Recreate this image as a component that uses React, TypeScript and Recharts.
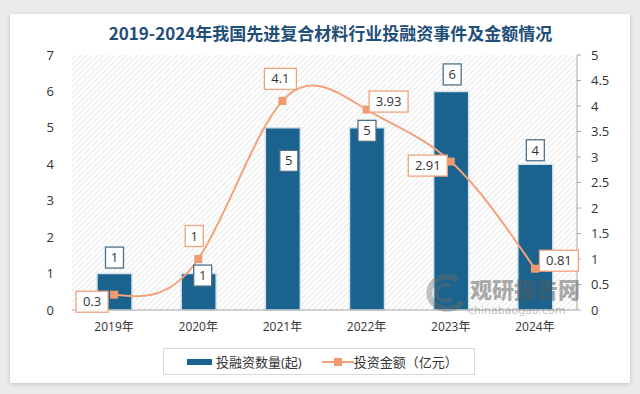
import { Bar, CartesianGrid, ComposedChart, LabelList, Line, XAxis, YAxis } from "recharts";

const years = ["2019年", "2020年", "2021年", "2022年", "2023年", "2024年"];
const counts = [1, 1, 5, 5, 6, 4];
const amounts = [0.3, 1, 4.1, 3.93, 2.91, 0.81];
const leftTicks = [0, 1, 2, 3, 4, 5, 6, 7];
const rightTicks = [0, 0.5, 1, 1.5, 2, 2.5, 3, 3.5, 4, 4.5, 5];

// label box offsets from the mark (dx, dy), as placed in the original
const barLabelOffsets = [[0, -16], [4, 2], [6, 33], [0, 3], [1, -17], [0, -14]];
const lineLabelOffsets = [[-22, 7], [-4, -23], [-2, -22], [22, -8], [-23, 4], [24, -8]];

const data = years.map((year, i) => ({ year, count: counts[i], amount: amounts[i] }));

const BLUE = "#19638e";
const ORANGE = "#f3a27c";
const FONT = "'Open Sans', 'Noto Sans CJK SC', sans-serif";

function BoxLabel(props: any) {
  const { x, y, width, value, index, offsets, border, isBar } = props;
  const [dx, dy] = offsets[index];
  const cx = (isBar ? Number(x) + Number(width) / 2 : Number(x)) + dx;
  const cy = Number(y) + dy;
  const text = String(value);
  const w = text.length * 7 + 11;
  const h = 21;
  return (
    <g>
      <rect x={cx - w / 2} y={cy - h / 2} width={w} height={h} fill="#fff" stroke={border} strokeWidth={1.3} />
      <text x={cx} y={cy} dy={4.5} textAnchor="middle" fontSize={13} fontFamily={FONT} fill="#333">
        {text}
      </text>
    </g>
  );
}

function SquareDot(props: any) {
  const { cx, cy, index } = props;
  return <rect key={`d${index}`} x={cx - 4} y={cy - 4} width={8} height={8} fill="#ef9a70" />;
}

function LegendBox() {
  return (
    <div
      style={{
        position: "absolute",
        left: 163,
        top: 348,
        width: 312,
        height: 27,
        border: "1px solid #d9d9d9",
        boxSizing: "border-box",
        display: "flex",
        alignItems: "center",
        fontFamily: FONT,
        fontSize: 13,
        color: "#333",
      }}
    >
      <span style={{ display: "inline-block", width: 25, height: 6, background: BLUE, marginLeft: 23, marginRight: 4 }} />
      <span>投融资数量(起)</span>
      <svg width={32} height={10} style={{ marginLeft: 20 }}>
        <line x1={0} y1={5} x2={32} y2={5} stroke={ORANGE} strokeWidth={2} />
        <rect x={12} y={1} width={8} height={8} fill="#ef9a70" />
      </svg>
      <span>投资金额（亿元）</span>
    </div>
  );
}

export default function App() {
  return (
    <div style={{ position: "relative", width: 640, height: 394, background: "#ebebeb", overflow: "hidden" }}>
      <style>{`body{margin:0}`}</style>
      <div
        style={{
          position: "absolute",
          left: 10,
          top: 14,
          width: 620,
          height: 369,
          background: "#fff",
          boxShadow: "0 1px 4px rgba(0,0,0,0.18)",
        }}
      />
      <div
        style={{
          position: "absolute",
          left: 0,
          top: 20,
          width: 661,
          textAlign: "center",
          fontFamily: "'Noto Sans CJK SC', sans-serif",
          fontWeight: 700,
          fontSize: 17,
          color: "#1f4e79",
        }}
      >
        2019-2024年我国先进复合材料行业投融资事件及金额情况
      </div>
      <div style={{ position: "absolute", left: 0, top: 0 }}>
        <ComposedChart width={640} height={394} data={data} margin={{ top: 55, right: 0, bottom: 54, left: 0 }}>
          <defs>
            <pattern id="hatch" width={4} height={4} patternUnits="userSpaceOnUse" patternTransform="rotate(45)">
              <line x1={0} y1={0} x2={0} y2={4} stroke="#d9d9d9" strokeWidth={1.2} />
            </pattern>
          </defs>
          <CartesianGrid horizontal={false} vertical={false} fill="url(#hatch)" fillOpacity={1} />
          <XAxis
            dataKey="year"
            height={30}
            axisLine={{ stroke: "#a6a6a6" }}
            tickLine={false}
            tick={{ fontSize: 12, fill: "#333", fontFamily: FONT }}
            tickMargin={6}
          />
          <YAxis
            yAxisId="left"
            width={72}
            domain={[0, 7]}
            ticks={leftTicks}
            axisLine={false}
            tickLine={false}
            tickSize={0}
            tickMargin={18}
            tick={{ fontSize: 13, fill: "#333", fontFamily: FONT }}
          />
          <YAxis
            yAxisId="right"
            orientation="right"
            width={63}
            domain={[0, 5]}
            ticks={rightTicks}
            axisLine={{ stroke: "#a6a6a6" }}
            tickLine={{ stroke: "#a6a6a6" }}
            tickSize={4}
            tickMargin={10}
            tick={{ fontSize: 13, fill: "#333", fontFamily: FONT, textAnchor: "start" }}
          />
          <Bar
            yAxisId="left"
            dataKey="count"
            name="投融资数量(起)"
            fill={BLUE}
            stroke="#d3e3ee"
            strokeWidth={1.5}
            barSize={35}
            isAnimationActive={false}
          >
            <LabelList
              dataKey="count"
              content={(p: any) => <BoxLabel {...p} offsets={barLabelOffsets} border="#4f6f86" isBar />}
            />
          </Bar>
          <Line
            yAxisId="right"
            dataKey="amount"
            name="投资金额（亿元）"
            type="natural"
            stroke={ORANGE}
            strokeWidth={2}
            dot={<SquareDot />}
            activeDot={false}
            isAnimationActive={false}
          >
            <LabelList
              dataKey="amount"
              content={(p: any) => <BoxLabel {...p} offsets={lineLabelOffsets} border="#efa27e" />}
            />
          </Line>
        </ComposedChart>
      </div>
      <svg style={{ position: "absolute", left: 418, top: 272 }} width={50} height={42}>
        <path d="M40 8 A18 16 0 1 0 44 30" fill="none" stroke="rgba(110,110,110,0.4)" strokeWidth={6} />
        <path d="M32 14 A9 8 0 1 0 34 26" fill="none" stroke="rgba(110,110,110,0.4)" strokeWidth={4} />
      </svg>
      <div
        style={{
          position: "absolute",
          left: 470,
          top: 276,
          fontFamily: "'Noto Sans CJK SC', sans-serif",
          fontWeight: 900,
          fontSize: 22,
          color: "rgba(90,90,90,0.5)",
          lineHeight: "24px",
        }}
      >
        观研报告网
      </div>
      <div
        style={{
          position: "absolute",
          left: 468,
          top: 305,
          fontFamily: "'DejaVu Sans', sans-serif",
          fontSize: 11,
          color: "rgba(110,110,110,0.45)",
          lineHeight: "12px",
        }}
      >
        chinabaogao.com
      </div>
      <LegendBox />
    </div>
  );
}
